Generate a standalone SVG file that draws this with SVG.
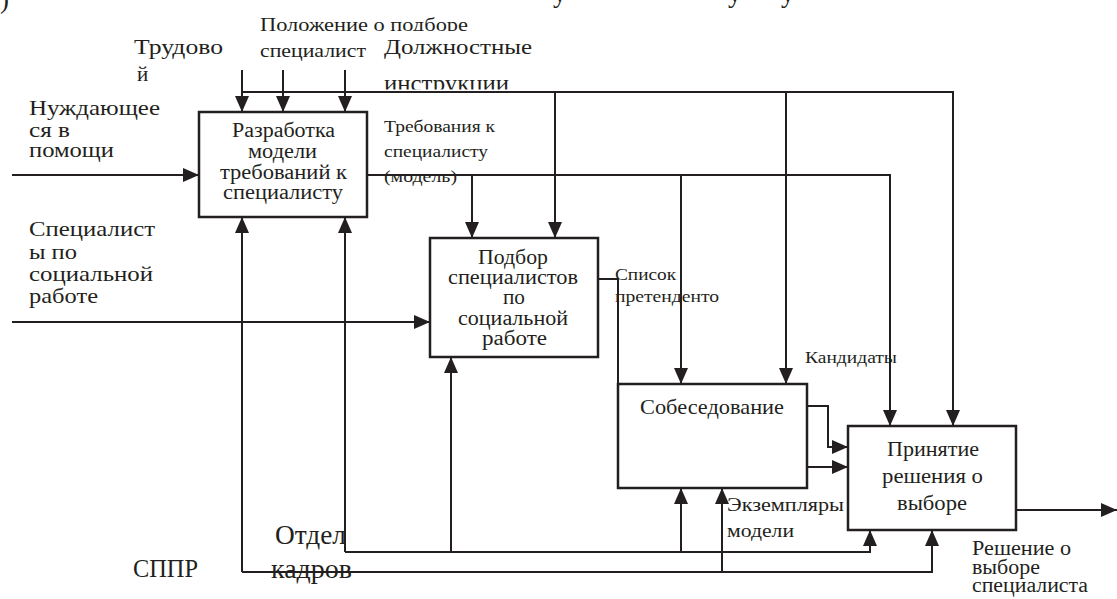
<svg xmlns="http://www.w3.org/2000/svg" width="1117" height="599" viewBox="0 0 1117 599" font-family="'Liberation Serif', 'DejaVu Serif', serif">
<style>
  .box { fill: #ffffff; stroke: #231f20; stroke-width: 2.5; }
  .ln { fill: none; stroke: #231f20; stroke-width: 2; }
  .arr { marker-end: url(#ah); }
  .tx { font-family: 'Liberation Serif', 'DejaVu Serif', serif; fill: #231f20; }
  .t16 { font-size: 16px; }
  .t18 { font-size: 18px; }
  .t20 { font-size: 20px; }
  .t21 { font-size: 21px; }
  .t22 { font-size: 22px; }
  .t24 { font-size: 24px; }
  .t25 { font-size: 25px; }
  .t27 { font-size: 27px; }
</style>
<defs>
  <marker id="ah" markerUnits="userSpaceOnUse" markerWidth="16" markerHeight="14" viewBox="0 0 16 14" refX="16" refY="7" orient="auto">
    <path d="M0,0 L16,7 L0,14 z" fill="#231f20"/>
  </marker>
  <clipPath id="clipPol"><rect x="250" y="0" width="230" height="31"/></clipPath>
  <clipPath id="clipInstr"><rect x="380" y="60" width="170" height="29.5"/></clipPath>
</defs>
<rect x="0" y="0" width="1117" height="599" fill="#ffffff"/>

<g id="top-fragments" class="tx">
  <text class="t27" x="0" y="8">)</text>
  <text class="t27" x="553" y="2">у</text>
  <text class="t27" x="728" y="2">у</text>
  <text class="t27" x="781" y="2">у</text>
</g>

<g id="connectors">
  <path class="ln arr" d="M242,70 V112"/>
  <path class="ln arr" d="M283,70 V112"/>
  <path class="ln arr" d="M345,70 V112"/>
  <path class="ln arr" d="M242,92 H953 V426"/>
  <path class="ln arr" d="M555,92 V238"/>
  <path class="ln arr" d="M786,92 V384"/>
  <path class="ln arr" d="M12,175 H199"/>
  <path class="ln arr" d="M12,322 H430"/>
  <path class="ln arr" d="M367,175 H890 V426"/>
  <path class="ln arr" d="M472,175 V238"/>
  <path class="ln arr" d="M681,175 V384"/>
  <path class="ln arr" d="M598,279 H618 V408 H638"/>
  <path class="ln arr" d="M807,406 H828 V447 H848"/>
  <path class="ln arr" d="M807,467 H848"/>
  <path class="ln arr" d="M1016,510 H1117"/>
  <path class="ln arr" d="M345,552 V217"/>
  <path class="ln arr" d="M345,552 H870 V530"/>
  <path class="ln arr" d="M451,552 V357"/>
  <path class="ln arr" d="M681,552 V488"/>
  <path class="ln arr" d="M242,572 V217"/>
  <path class="ln arr" d="M242,572 H932 V530"/>
  <path class="ln arr" d="M722,572 V488"/>
</g>

<g id="node-razrabotka" class="tx">
  <rect class="box" x="199" y="112" width="168" height="105"/>
  <text class="t20" x="232" y="137" textLength="103" lengthAdjust="spacingAndGlyphs">Разработка</text>
  <text class="t20" x="248" y="158" textLength="69" lengthAdjust="spacingAndGlyphs">модели</text>
  <text class="t20" x="220" y="179" textLength="127" lengthAdjust="spacingAndGlyphs">требований к</text>
  <text class="t20" x="223" y="199" textLength="120" lengthAdjust="spacingAndGlyphs">специалисту</text>
</g>

<g id="node-podbor" class="tx">
  <rect class="box" x="430" y="238" width="168" height="119"/>
  <text class="t20" x="478" y="264" textLength="70" lengthAdjust="spacingAndGlyphs">Подбор</text>
  <text class="t20" x="448" y="284" textLength="130" lengthAdjust="spacingAndGlyphs">специалистов</text>
  <text class="t20" x="503" y="304" textLength="22" lengthAdjust="spacingAndGlyphs">по</text>
  <text class="t20" x="458" y="325" textLength="110" lengthAdjust="spacingAndGlyphs">социальной</text>
  <text class="t20" x="482" y="345" textLength="65" lengthAdjust="spacingAndGlyphs">работе</text>
</g>

<g id="node-sobesedovanie" class="tx">
  <rect class="box" x="618" y="384" width="189" height="104"/>
  <text class="t21" x="640" y="414" textLength="144" lengthAdjust="spacingAndGlyphs">Собеседование</text>
</g>

<g id="node-prinyatie" class="tx">
  <rect class="box" x="848" y="426" width="168" height="104"/>
  <text class="t21" x="887" y="456" textLength="92" lengthAdjust="spacingAndGlyphs">Принятие</text>
  <text class="t21" x="882" y="483" textLength="101" lengthAdjust="spacingAndGlyphs">решения о</text>
  <text class="t21" x="897" y="510" textLength="70" lengthAdjust="spacingAndGlyphs">выборе</text>
</g>

<g id="labels" class="tx">
  <text class="t18" x="260" y="31" textLength="208" lengthAdjust="spacingAndGlyphs" clip-path="url(#clipPol)">Положение о подборе</text>
  <text class="t18" x="260" y="57" textLength="106" lengthAdjust="spacingAndGlyphs">специалист</text>
  <text class="t21" x="134" y="54" textLength="89" lengthAdjust="spacingAndGlyphs">Трудово</text>
  <text class="t21" x="137" y="81">й</text>
  <text class="t21" x="384" y="54" textLength="148" lengthAdjust="spacingAndGlyphs">Должностные</text>
  <text class="t24" x="384" y="91" textLength="125" lengthAdjust="spacingAndGlyphs" clip-path="url(#clipInstr)">инструкции</text>

  <text class="t22" x="29" y="115" textLength="131" lengthAdjust="spacingAndGlyphs">Нуждающее</text>
  <text class="t22" x="29" y="137" textLength="41" lengthAdjust="spacingAndGlyphs">ся в</text>
  <text class="t22" x="29" y="157" textLength="85" lengthAdjust="spacingAndGlyphs">помощи</text>

  <text class="t16" x="384" y="132" textLength="111" lengthAdjust="spacingAndGlyphs">Требования к</text>
  <text class="t16" x="384" y="157" textLength="104" lengthAdjust="spacingAndGlyphs">специалисту</text>
  <text class="t16" x="384" y="182" textLength="73" lengthAdjust="spacingAndGlyphs">(модель)</text>

  <text class="t22" x="29" y="236" textLength="126" lengthAdjust="spacingAndGlyphs">Специалист</text>
  <text class="t22" x="29" y="259" textLength="48" lengthAdjust="spacingAndGlyphs">ы по</text>
  <text class="t22" x="29" y="281" textLength="124" lengthAdjust="spacingAndGlyphs">социальной</text>
  <text class="t22" x="29" y="303" textLength="69" lengthAdjust="spacingAndGlyphs">работе</text>

  <text class="t16" x="615" y="280" textLength="61" lengthAdjust="spacingAndGlyphs">Список</text>
  <text class="t16" x="615" y="302" textLength="104" lengthAdjust="spacingAndGlyphs">претенденто</text>

  <text class="t16" x="805" y="363" textLength="92" lengthAdjust="spacingAndGlyphs">Кандидаты</text>

  <text class="t18" x="727" y="511" textLength="117" lengthAdjust="spacingAndGlyphs">Экземпляры</text>
  <text class="t18" x="727" y="537" textLength="67" lengthAdjust="spacingAndGlyphs">модели</text>

  <text class="t20" x="972" y="555" textLength="99" lengthAdjust="spacingAndGlyphs">Решение о</text>
  <text class="t20" x="972" y="574" textLength="68" lengthAdjust="spacingAndGlyphs">выборе</text>
  <text class="t20" x="972" y="592" textLength="116" lengthAdjust="spacingAndGlyphs">специалиста</text>

  <text class="t27" x="275" y="544" textLength="71" lengthAdjust="spacingAndGlyphs">Отдел</text>
  <text class="t27" x="271" y="578" textLength="81" lengthAdjust="spacingAndGlyphs">кадров</text>

  <text class="t25" x="133" y="577" textLength="65" lengthAdjust="spacingAndGlyphs">СППР</text>
</g>
</svg>
